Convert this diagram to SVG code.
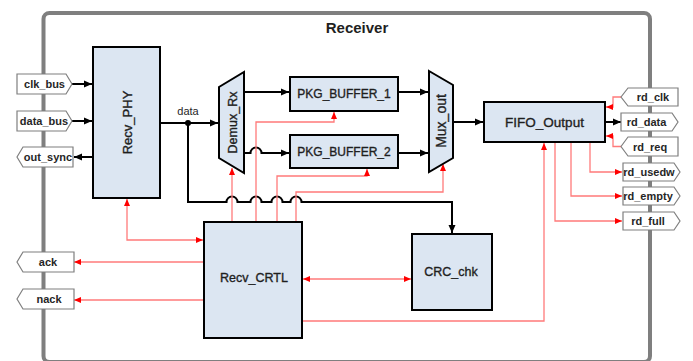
<svg xmlns="http://www.w3.org/2000/svg" width="693" height="361" viewBox="0 0 693 361">
<style>
.blk{fill:#dce6f2;stroke:#000;stroke-width:2}
.lbl{font-family:"Liberation Sans",Arial,sans-serif;fill:#1f1f1f;stroke:#1f1f1f;stroke-width:0.35;text-anchor:middle}
.tag{fill:#fff;stroke:#7f7f7f;stroke-width:1.2}
.tt{font-family:"Liberation Sans",Arial,sans-serif;font-weight:bold;font-size:11px;fill:#262626;text-anchor:middle}
.bka{fill:none;stroke:#000;stroke-width:2;marker-end:url(#ab)}
.rd{fill:none;stroke:#ff7a7a;stroke-width:1.3;marker-end:url(#ar)}
.rd2{fill:none;stroke:#ff7a7a;stroke-width:1.3;marker-end:url(#ar);marker-start:url(#ar)}
</style>
<defs>
<marker id="ab" markerUnits="userSpaceOnUse" markerWidth="9" markerHeight="8" refX="8" refY="4" orient="auto"><path d="M0,0.5 L8,4 L0,7.5 z" fill="#000"/></marker>
<marker id="ar" markerUnits="userSpaceOnUse" markerWidth="8" markerHeight="7" refX="7" refY="3.5" orient="auto-start-reverse"><path d="M0,0.5 L7,3.5 L0,6.5 z" fill="#ff0000"/></marker>
</defs>

<rect id="frame" x="43.5" y="13" width="606.5" height="349" rx="6" fill="none" stroke="#7f7f7f" stroke-width="4"/>
<text x="357" y="33" font-family="Liberation Sans, Arial, sans-serif" font-size="15" font-weight="bold" fill="#1f1f1f" text-anchor="middle">Receiver</text>

<g id="connectors">
  <path class="bka" d="M72,84 H92"/>
  <path class="bka" d="M72,121 H92"/>
  <path class="bka" d="M93,157 H74"/>
  <path class="bka" d="M160,123 H218"/>
  <path class="bka" d="M188,123 V202 H226.5 a5.5,5.5 0 0 1 11,0 H250.5 a5.5,5.5 0 0 1 11,0 H271.5 a5.5,5.5 0 0 1 11,0 H290.5 a5.5,5.5 0 0 1 11,0 H452 V233"/>
  <circle cx="188" cy="123" r="3" fill="#000"/>
  <path class="bka" d="M244,92 H289"/>
  <path class="bka" d="M244,153 H250.5 a5.5,5.5 0 0 1 11,0 H289"/>
  <path class="bka" d="M398,92 H428"/>
  <path class="bka" d="M398,153 H428"/>
  <path class="bka" d="M453,122 H483"/>
  <path class="bka" d="M606,122 H621"/>

  <path class="rd2" d="M127,199 V240 H203"/>
  <path class="rd" d="M204,262 H74"/>
  <path class="rd" d="M204,300 H74"/>
  <path class="rd2" d="M303,279 H411"/>
  <path class="rd" d="M232,222 V168"/>
  <path class="rd" d="M256,222 V122 H334 V112"/>
  <path class="rd" d="M277,222 V176 H367 V169"/>
  <path class="rd" d="M296,222 V192 H443 V164"/>
  <path class="rd" d="M303,321 H544 V143"/>
  <path class="rd" d="M590,143 V172 H622"/>
  <path class="rd" d="M571,143 V196 H622"/>
  <path class="rd" d="M555,143 V221 H622"/>
  <path class="rd" d="M621,97 H613 V107 H606"/>
  <path class="rd" d="M621,146.5 H613 V136 H606"/>
</g>

<g id="Recv_PHY">
  <rect class="blk" x="93" y="47" width="67" height="151"/>
  <text class="lbl" font-size="13" transform="translate(132,122.5) rotate(-90)">Recv_PHY</text>
</g>
<text x="188" y="115" font-family="Liberation Sans, Arial, sans-serif" font-size="11" fill="#262626" text-anchor="middle">data</text>
<g id="Demux_Rx">
  <path class="blk" d="M219,87 L244,72 L244,173 L219,158 Z"/>
  <text class="lbl" font-size="12.5" transform="translate(236.5,122.5) rotate(-90)">Demux_Rx</text>
</g>
<g id="PKG_BUFFER_1">
  <rect class="blk" x="290" y="77" width="108" height="34"/>
  <text class="lbl" x="344" y="97.5" font-size="12">PKG_BUFFER_1</text>
</g>
<g id="PKG_BUFFER_2">
  <rect class="blk" x="290" y="135" width="108" height="33"/>
  <text class="lbl" x="344" y="156" font-size="12">PKG_BUFFER_2</text>
</g>
<g id="Mux_out">
  <path class="blk" d="M429,71 L453,85 L453,158 L429,172 Z"/>
  <text class="lbl" font-size="14" transform="translate(446,121) rotate(-90)">Mux_out</text>
</g>
<g id="FIFO_Output">
  <rect class="blk" x="484" y="102" width="121" height="40"/>
  <text class="lbl" x="544.5" y="127" font-size="13.5">FIFO_Output</text>
</g>
<g id="Recv_CRTL">
  <rect class="blk" x="204" y="222" width="98" height="116"/>
  <text class="lbl" x="254" y="281.5" font-size="12.5">Recv_CRTL</text>
</g>
<g id="CRC_chk">
  <rect class="blk" x="412" y="234" width="80" height="76"/>
  <text class="lbl" x="451" y="276" font-size="12.5">CRC_chk</text>
</g>

<g id="clk_bus"><path class="tag" d="M17,74 H66 L72,84 L66,94 H17 Z"/><text class="tt" x="44.5" y="88">clk_bus</text></g>
<g id="data_bus"><path class="tag" d="M17,111 H66 L72,121 L66,131 H17 Z"/><text class="tt" x="44" y="125">data_bus</text></g>
<g id="out_sync"><path class="tag" d="M17,157 L23,147 H73 V167 H23 Z"/><text class="tt" x="48" y="161">out_sync</text></g>
<g id="ack"><path class="tag" d="M17,262 L23,252 H74 V272 H23 Z"/><text class="tt" x="48" y="266">ack</text></g>
<g id="nack"><path class="tag" d="M17,299 L23,289 H74 V309 H23 Z"/><text class="tt" x="49" y="303">nack</text></g>

<g id="rd_clk"><path class="tag" d="M621,97 L628,88 H678 V106 H628 Z"/><text class="tt" x="653" y="101">rd_clk</text></g>
<g id="rd_data"><path class="tag" d="M621,113 H672 L678,122 L672,131 H621 Z"/><text class="tt" x="646.5" y="126">rd_data</text></g>
<g id="rd_req"><path class="tag" d="M621,146.5 L628,137 H678 V156 H628 Z"/><text class="tt" x="650" y="150.5">rd_req</text></g>
<g id="rd_usedw"><path class="tag" d="M623,163 H674 L680,172 L674,181 H623 Z"/><text class="tt" x="649" y="176">rd_usedw</text></g>
<g id="rd_empty"><path class="tag" d="M623,187 H674 L680,196 L674,205 H623 Z"/><text class="tt" x="648" y="200">rd_empty</text></g>
<g id="rd_full"><path class="tag" d="M623,212 H674 L680,221 L674,230 H623 Z"/><text class="tt" x="648" y="225">rd_full</text></g>
</svg>
